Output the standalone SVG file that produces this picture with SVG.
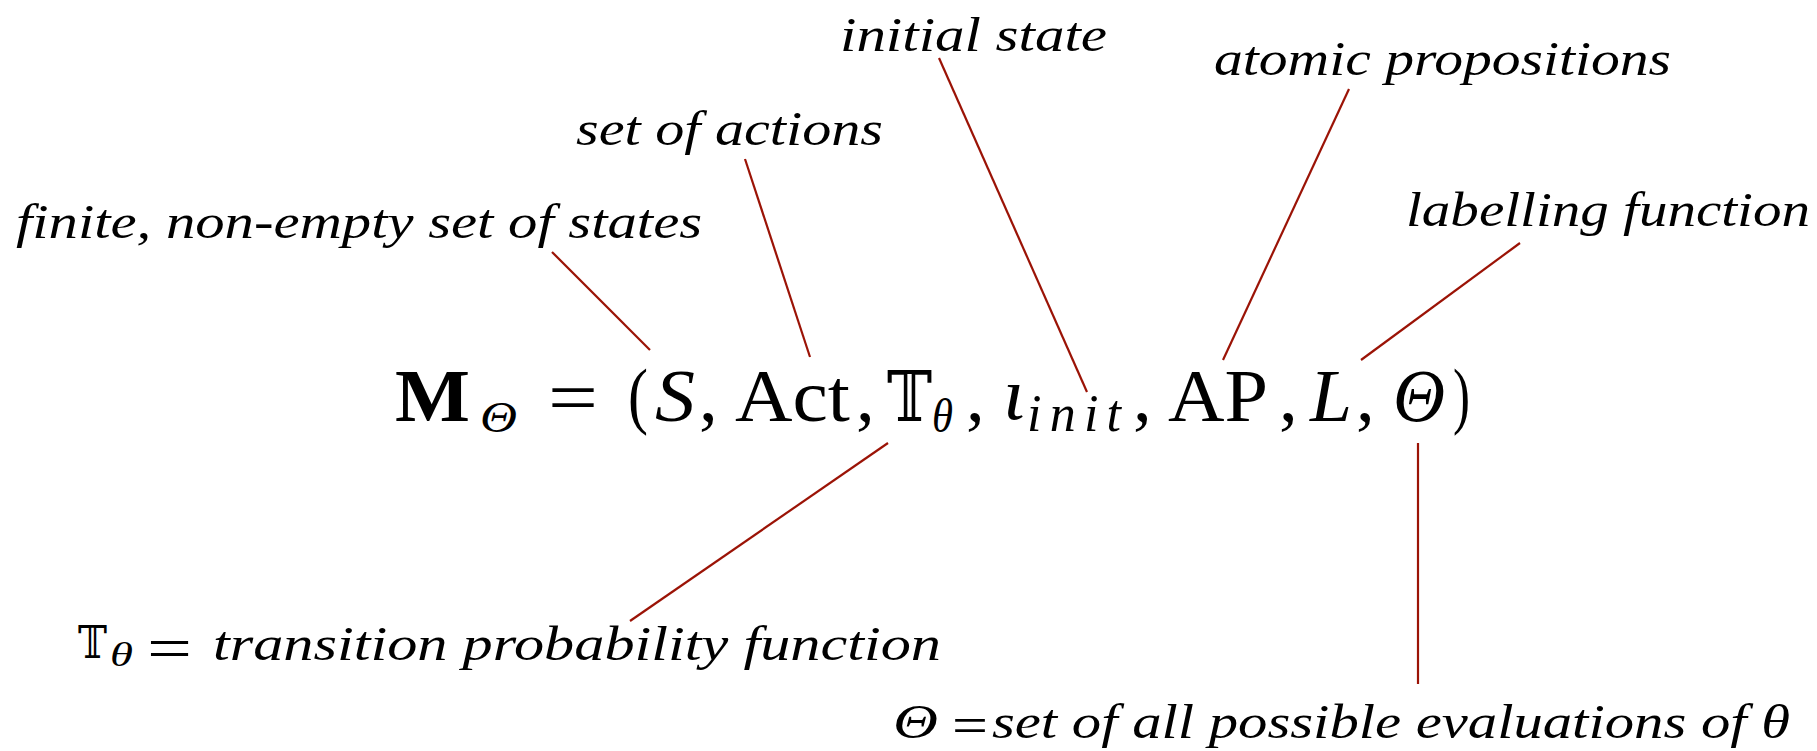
<svg xmlns="http://www.w3.org/2000/svg" width="1817" height="751" viewBox="0 0 1817 751">
<style>
text{font-family:'Liberation Serif','Times New Roman',Tinos,Times,serif;fill:#000}
.lbl{font-style:italic;font-size:48px}
.rm{font-size:75px}
.it{font-style:italic;font-size:75px}
.sub{font-style:italic;font-size:48px}
.bb{font-family:'DejaVu Serif','DejaVu Sans',serif}
.bold{font-weight:bold}
.con line{stroke:#9b1306;stroke-width:2.2;fill:none}
</style>
<rect width="1817" height="751" fill="#fff"/>
<g id="formula">
<text class="rm bold" x="395" y="421" textLength="75" lengthAdjust="spacingAndGlyphs">M</text>
<text class="sub" x="480" y="432" style="font-size:44px" textLength="37" lengthAdjust="spacingAndGlyphs">Θ</text>
<text class="rm" x="548" y="422" textLength="50" lengthAdjust="spacingAndGlyphs">=</text>
<text class="rm" x="628" y="420" textLength="20" lengthAdjust="spacingAndGlyphs">(</text>
<text class="it" x="655" y="421" textLength="40" lengthAdjust="spacingAndGlyphs">S</text>
<text class="rm" x="699" y="421">,</text>
<text class="rm" x="735" y="421" textLength="115" lengthAdjust="spacingAndGlyphs">Act</text>
<text class="rm" x="856" y="421">,</text>
<text class="bb" x="887" y="421" style="font-size:70px" textLength="45" lengthAdjust="spacingAndGlyphs">𝕋</text>
<text class="sub" x="932" y="432" textLength="21" lengthAdjust="spacingAndGlyphs">θ</text>
<text class="rm" x="966" y="421">,</text>
<text class="it" x="1003" y="419" textLength="22" lengthAdjust="spacingAndGlyphs">ι</text>
<text class="sub" x="1027" y="431" style="font-size:52px" textLength="94" lengthAdjust="spacing">init</text>
<text class="rm" x="1133" y="421">,</text>
<text class="rm" x="1168" y="421" textLength="100" lengthAdjust="spacingAndGlyphs">AP</text>
<text class="rm" x="1279" y="421">,</text>
<text class="it" x="1310" y="421" textLength="42" lengthAdjust="spacingAndGlyphs">L</text>
<text class="rm" x="1356" y="421">,</text>
<text class="it" x="1393" y="421" textLength="52" lengthAdjust="spacingAndGlyphs">Θ</text>
<text class="rm" x="1453" y="420" textLength="17" lengthAdjust="spacingAndGlyphs">)</text>
</g>
<g id="label-states"><text class="lbl" x="16" y="238" textLength="686" lengthAdjust="spacingAndGlyphs">finite, non-empty set of states</text></g>
<g id="label-actions"><text class="lbl" x="576" y="145" textLength="307" lengthAdjust="spacingAndGlyphs">set of actions</text></g>
<g id="label-initial"><text class="lbl" x="840" y="51" textLength="267" lengthAdjust="spacingAndGlyphs">initial state</text></g>
<g id="label-ap"><text class="lbl" x="1214" y="75" textLength="457" lengthAdjust="spacingAndGlyphs">atomic propositions</text></g>
<g id="label-labelling"><text class="lbl" x="1406" y="226" textLength="404" lengthAdjust="spacingAndGlyphs">labelling function</text></g>
<g id="label-transition">
<text class="bb" x="78" y="658" style="font-size:45px" textLength="29" lengthAdjust="spacingAndGlyphs">𝕋</text>
<text class="lbl" x="110" y="666" style="font-size:34px" textLength="23" lengthAdjust="spacingAndGlyphs">θ</text>
<text x="147" y="668" style="font-size:60px" textLength="45" lengthAdjust="spacingAndGlyphs">=</text>
<text class="lbl" x="213" y="660" textLength="728" lengthAdjust="spacingAndGlyphs">transition probability function</text>
</g>
<g id="label-theta">
<text class="lbl" x="893" y="738" textLength="45" lengthAdjust="spacingAndGlyphs">Θ</text>
<text x="952" y="743" style="font-size:52px" textLength="36" lengthAdjust="spacingAndGlyphs">=</text>
<text class="lbl" x="992" y="738" textLength="798" lengthAdjust="spacingAndGlyphs">set of all possible evaluations of θ</text>
</g>
<g id="connectors" class="con">
<line x1="552" y1="252" x2="650" y2="350"/>
<line x1="745" y1="159" x2="810" y2="357"/>
<line x1="939" y1="58" x2="1087" y2="392"/>
<line x1="1349" y1="89" x2="1223" y2="360"/>
<line x1="1520" y1="243" x2="1361" y2="360"/>
<line x1="1418" y1="443" x2="1418" y2="684"/>
<line x1="888" y1="443" x2="630" y2="621"/>
</g>
</svg>
